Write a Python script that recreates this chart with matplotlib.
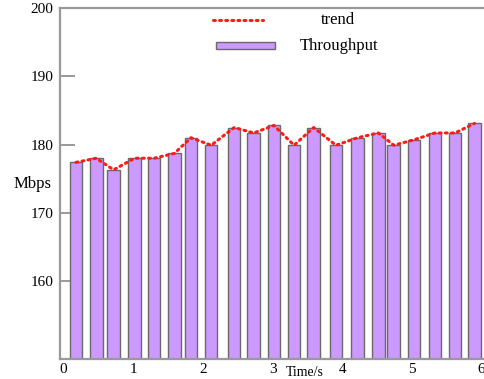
import matplotlib

matplotlib.use("Agg")
import matplotlib.pyplot as plt
from matplotlib.patches import Rectangle

# Sample times (s) and measured throughput (Mbps)
times = [0.18, 0.47, 0.72, 1.02, 1.30, 1.59, 1.83, 2.12, 2.45, 2.73, 3.02,
         3.31, 3.59, 3.91, 4.22, 4.52, 4.74, 5.03, 5.33, 5.62, 5.90]
throughput = [177.4, 178.0, 176.3, 178.0, 178.0, 178.7, 181.0, 179.9, 182.5,
              181.7, 182.8, 179.9, 182.5, 179.9, 181.0, 181.7, 179.9, 180.7,
              181.7, 181.7, 183.1]
yticks = [160, 170, 180, 190, 200]
xticks = [0, 1, 2, 3, 4, 5, 6]

plt.rcParams["font.family"] = ["Liberation Serif", "DejaVu Serif"]

fig = plt.figure(figsize=(4.85, 3.79), dpi=100)
ax = fig.add_axes([60 / 485, 20 / 379, 432 / 485, 351 / 379])

bar_color = "#cc99ff"
ax.bar(times, throughput, width=0.18, color=bar_color, edgecolor="#6a6a6a",
       linewidth=1.0, zorder=2)
ax.plot(times, throughput, color="#ff1a1a", lw=2.2,
        linestyle=(0, (0.6, 1.4)), dash_capstyle="round", zorder=3)

ax.set_xlim(-0.05, 6.15)
ax.set_ylim(148.6, 200)
ax.set_yticks(yticks)
ax.set_xticks(xticks)
ax.tick_params(axis="y", direction="in", length=11, width=1.2, color="#888888",
               labelsize=11, pad=5)
ax.tick_params(axis="x", length=0, labelsize=11, pad=3)

for side in ("left", "top", "bottom"):
    ax.spines[side].set_color("#999999")
    ax.spines[side].set_linewidth(1.6)
ax.spines["right"].set_visible(False)

ax.set_ylabel("Mbps", rotation=0, fontsize=12, ha="center", va="center")
ax.yaxis.set_label_coords(-0.0625, 0.5)
# x label sits between the "3" and "4" tick labels, inside the narrow margin
ax.set_xlabel("Time/s", fontsize=10, va="baseline")
ax.xaxis.set_label_coords(0.567, -0.049)

# Legend drawn by hand: dotted trend sample and bar swatch
tr = ax.transAxes
ax.plot([0.355, 0.47], [0.967, 0.967], transform=tr, color="#ff1a1a", lw=2.2,
        linestyle=(0, (0.6, 1.4)), dash_capstyle="round", clip_on=False)
ax.text(0.605, 0.967, "trend", transform=tr, fontsize=12, va="center")
ax.add_patch(Rectangle((0.36, 0.882), 0.138, 0.02, transform=tr,
                       facecolor=bar_color, edgecolor="#6a6a6a", lw=1.0))
ax.text(0.555, 0.893, "Throughput", transform=tr, fontsize=12, va="center")

fig.savefig("out.png", dpi=100)
